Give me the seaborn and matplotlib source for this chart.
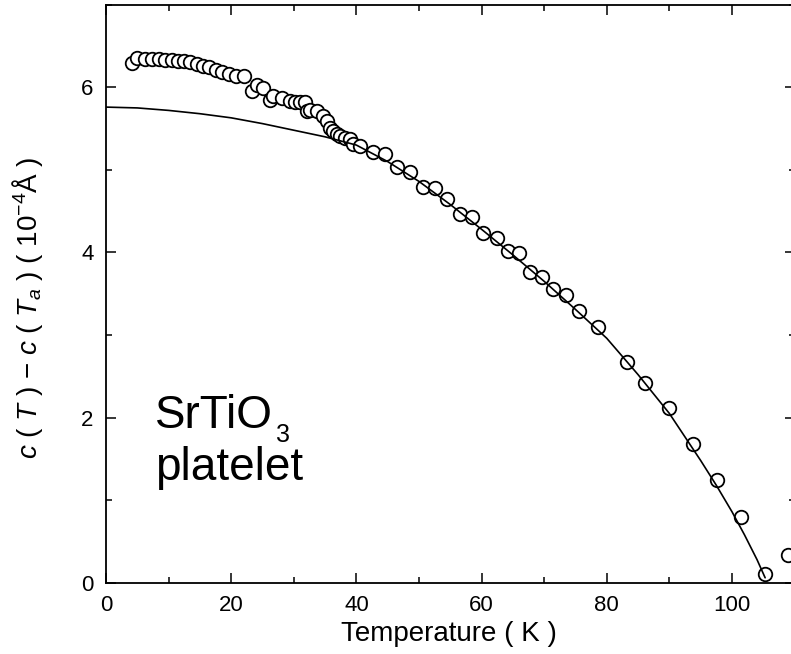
import numpy as np
import pandas as pd
import seaborn as sns
import matplotlib.pyplot as plt
from matplotlib.ticker import MultipleLocator


# measured points: temperature (K) and c(T) - c(Ta) (1e-4 A)
temp_k = [4.1, 5.0, 6.3, 7.3, 8.4, 9.4, 10.5, 11.5, 12.5, 13.5, 14.5, 15.5,
          16.5, 17.6, 18.6, 19.7, 20.7, 22.0, 23.3, 24.1, 25.1, 26.2, 26.7,
          28.1, 29.4, 30.2, 31.0, 31.8, 32.1, 32.6, 33.7, 34.7, 35.3, 35.8,
          36.3, 36.9, 37.4, 38.2, 39.0, 39.5, 40.6, 42.6, 44.6, 46.5, 48.6,
          50.7, 52.6, 54.4, 56.5, 58.4, 60.3, 62.4, 64.3, 66.0, 67.7, 69.6,
          71.4, 73.5, 75.5, 78.6, 83.3, 86.1, 90.0, 93.7, 97.6, 101.4, 105.3,
          109.0]
dc_val = [6.30, 6.36, 6.34, 6.34, 6.34, 6.33, 6.33, 6.32, 6.32, 6.31, 6.28,
          6.26, 6.24, 6.21, 6.18, 6.16, 6.14, 6.14, 5.96, 6.03, 5.99, 5.85,
          5.89, 5.87, 5.83, 5.82, 5.82, 5.82, 5.71, 5.73, 5.71, 5.65, 5.59,
          5.51, 5.47, 5.43, 5.41, 5.39, 5.37, 5.31, 5.29, 5.22, 5.19, 5.03,
          4.97, 4.79, 4.78, 4.65, 4.47, 4.43, 4.23, 4.18, 4.02, 3.99, 3.76,
          3.70, 3.56, 3.48, 3.29, 3.10, 2.67, 2.42, 2.12, 1.68, 1.24, 0.80,
          0.10, 0.33]

# fitted curve
fit_t = [0, 5, 10, 15, 20, 25, 30, 35, 40, 45, 50, 55, 60, 65, 70, 75, 80,
         85, 90, 95, 97.5, 100, 102, 104, 105.3]
fit_v = [5.76, 5.75, 5.72, 5.68, 5.63, 5.56, 5.48, 5.40, 5.30, 5.10, 4.86,
         4.58, 4.28, 3.97, 3.65, 3.31, 2.96, 2.52, 2.05, 1.48, 1.18, 0.86,
         0.58, 0.28, 0.06]

sns.set_theme(style='ticks')
plt.rcParams['font.family'] = ['Liberation Sans', 'DejaVu Sans']
plt.rcParams['mathtext.fontset'] = 'custom'
plt.rcParams['mathtext.rm'] = 'Liberation Sans'
plt.rcParams['mathtext.it'] = 'Liberation Sans:italic'
plt.rcParams['text.color'] = 'black'
plt.rcParams['axes.labelcolor'] = 'black'
plt.rcParams['xtick.color'] = 'black'
plt.rcParams['ytick.color'] = 'black'

df = pd.DataFrame({'T': temp_k, 'dc': dc_val})
fit_df = pd.DataFrame({'T': fit_t, 'dc': fit_v})

fig = plt.figure(figsize=(7.91, 6.54), dpi=100)
ax = fig.add_axes([0.134, 0.109, 0.8705, 0.8838])

sns.scatterplot(data=df, x='T', y='dc', ax=ax, marker='o', s=95,
                facecolor='white', edgecolor='black', linewidth=1.3,
                zorder=2, legend=False)
sns.lineplot(data=fit_df, x='T', y='dc', ax=ax, color='black', linewidth=1.2,
             estimator=None, sort=True, zorder=3)

ax.set_xlim(0, 110)
ax.set_ylim(0, 7)
ax.xaxis.set_major_locator(MultipleLocator(20))
ax.xaxis.set_minor_locator(MultipleLocator(10))
ax.yaxis.set_major_locator(MultipleLocator(2))
ax.yaxis.set_minor_locator(MultipleLocator(1))
ax.tick_params(which='both', direction='in', top=True, right=True,
               color='black', width=1.1)
ax.tick_params(which='major', length=7, labelsize=16)
ax.tick_params(axis='x', which='major', pad=9)
ax.tick_params(axis='y', which='major', pad=9)
ax.tick_params(which='minor', length=4)
for sp in ax.spines.values():
    sp.set_color('black')
    sp.set_linewidth(1.3)
ax.spines['right'].set_visible(False)

ax.set_xlabel('Temperature ( K )', fontsize=20)
ax.xaxis.set_label_coords(0.498, -0.066)
ax.set_ylabel(r'$c$ ( $T$ ) $-$ $c$ ( $T_a$ ) ( 10$^{-4}$Å )', fontsize=20)
ax.yaxis.set_label_coords(-0.088, 0.476)

t1 = ax.text(7.8, 1.87, 'SrTiO', fontsize=33, ha='left', va='baseline')
ax.annotate('3', xy=(1, 0), xycoords=t1, xytext=(2, -3),
            textcoords='offset points', fontsize=18, ha='left', va='baseline')
ax.text(7.8, 1.24, 'platelet', fontsize=33, ha='left', va='baseline')

fig.savefig('out.png', dpi=100)
